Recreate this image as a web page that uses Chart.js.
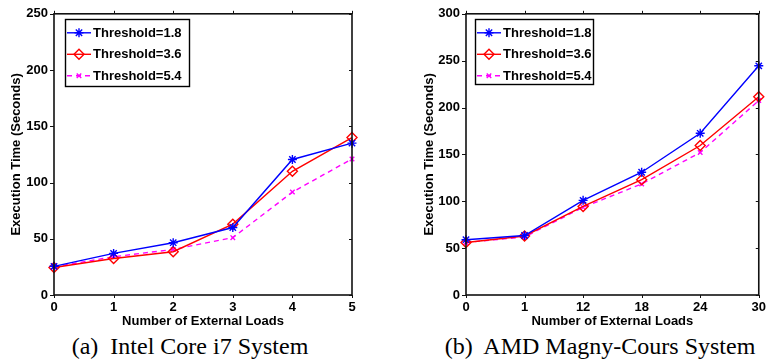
<!DOCTYPE html>
<html>
<head>
<meta charset="utf-8">
<script src="https://cdn.jsdelivr.net/npm/chart.js@4/dist/chart.umd.min.js"></script>
<style>
  html, body { margin:0; padding:0; background:#fff; }
  body { width:771px; height:364px; position:relative; overflow:hidden; }
  .wrap { position:absolute; top:0; }
  .cap { position:absolute; font-family:"Liberation Serif","DejaVu Serif",serif; font-size:24px; line-height:28px; color:#000; white-space:pre; transform:translateX(-50%); top:332px; }
</style>
</head>
<body>
<div class="wrap" style="left:0;width:390px;height:332px;"><canvas id="c1" width="390" height="332"></canvas></div>
<div class="wrap" style="left:390px;width:381px;height:332px;"><canvas id="c2" width="381" height="332"></canvas></div>
<div class="cap" style="left:190px;">(a)  Intel Core i7 System</div>
<div class="cap" style="left:600px;">(b)  AMD Magny-Cours System</div>
<script>
// ---------- data ----------
const seriesNames = ["Threshold=1.8", "Threshold=3.6", "Threshold=5.4"];

const intelLoads = ["0", "1", "2", "3", "4", "5"];
const intelT18 = [25.5, 37, 46.5, 60, 120.5, 135];
const intelT36 = [24.5, 32.5, 38.5, 63, 110, 140];
const intelT54 = [25, 34, 40.5, 51, 91.5, 121];
const intelYTicks = [0, 50, 100, 150, 200, 250];

const amdLoads = ["0", "1", "12", "18", "24", "30"];
const amdT18 = [59, 63.5, 101, 131, 172.5, 244.5];
const amdT36 = [56, 63, 94.5, 123, 159.5, 211.5];
const amdT54 = [56, 62, 93.5, 118.5, 152, 207.5];
const amdYTicks = [0, 50, 100, 150, 200, 250, 300];

const xTitle = "Number of External Loads";
const yTitle = "Execution Time (Seconds)";

// ---------- styles ----------
const FONT = "'Liberation Sans', Arial, sans-serif";
const styles = [
  { borderColor:'#0000ff', pointStyle:'star', pointRadius:4.5, borderDash:[], fill:'#0000ff' },
  { borderColor:'#ff0000', pointStyle:'rectRot', pointRadius:5, borderDash:[], fill:'rgba(0,0,0,0)' },
  { borderColor:'#ff00ff', pointStyle:'crossRot', pointRadius:3.2, borderDash:[5,4], fill:'#ff00ff' }
];

function makeDatasets(arrs) {
  return arrs.map((d, i) => ({
    label: seriesNames[i],
    data: d,
    borderColor: styles[i].borderColor,
    backgroundColor: styles[i].fill,
    pointBackgroundColor: styles[i].fill,
    pointBorderColor: styles[i].borderColor,
    pointStyle: styles[i].pointStyle,
    pointRadius: styles[i].pointRadius,
    pointHoverRadius: styles[i].pointRadius,
    pointBorderWidth: 1.4,
    borderWidth: 1.4,
    borderDash: styles[i].borderDash,
    tension: 0,
    fill: false
  }));
}

const framePlugin = {
  id: 'frame',
  afterDraw(chart, args, opts) {
    const ctx = chart.ctx;
    const a = chart.chartArea;
    const xs = chart.scales.x, ys = chart.scales.y;
    ctx.save();
    ctx.strokeStyle = '#111';
    ctx.lineWidth = 1.6;
    ctx.strokeRect(a.left, a.top, a.right - a.left, a.bottom - a.top);
    ctx.lineWidth = 1;
    ctx.beginPath();
    xs.ticks.forEach((t, i) => {
      const px = Math.round(xs.getPixelForTick(i)) + 0.5;
      ctx.moveTo(px, a.bottom); ctx.lineTo(px, a.bottom + 3);
      ctx.moveTo(px, a.top); ctx.lineTo(px, a.top - 3);
    });
    ys.ticks.forEach((t, i) => {
      const py = Math.round(ys.getPixelForTick(i)) + 0.5;
      ctx.moveTo(a.left, py); ctx.lineTo(a.left - 4, py);
      ctx.moveTo(a.right, py); ctx.lineTo(a.right - 3, py);
    });
    ctx.stroke();

    // legend
    const lg = opts.legend;
    const bx = a.left + lg.dx, by = a.top + lg.dy;
    ctx.fillStyle = '#fff';
    ctx.fillRect(bx, by, lg.w, lg.h);
    ctx.strokeStyle = '#000';
    ctx.lineWidth = 1.4;
    ctx.strokeRect(Math.round(bx) + 0.5, Math.round(by) + 0.5, lg.w, lg.h);
    ctx.font = "bold 13px " + FONT;
    ctx.textBaseline = 'middle';
    ctx.textAlign = 'left';
    chart.data.datasets.forEach((ds, i) => {
      const y = by + lg.row0 + i * lg.rowGap;
      const x0 = bx + 2, x1 = bx + 26;
      ctx.save();
      ctx.strokeStyle = ds.borderColor;
      ctx.lineWidth = ds.borderWidth;
      ctx.setLineDash(ds.borderDash || []);
      ctx.beginPath(); ctx.moveTo(x0, y); ctx.lineTo(x1, y); ctx.stroke();
      ctx.setLineDash([]);
      ctx.strokeStyle = ds.pointBorderColor;
      ctx.fillStyle = ds.pointBackgroundColor;
      ctx.lineWidth = ds.pointBorderWidth;
      Chart.helpers.drawPoint(ctx, { pointStyle: ds.pointStyle, radius: ds.pointRadius, rotation: 0, borderWidth: ds.pointBorderWidth }, (x0 + x1) / 2, y);
      ctx.restore();
      ctx.fillStyle = '#000';
      ctx.fillText(ds.label, bx + 28, y + 0.5);
    });
    ctx.restore();
  }
};

function makeChart(id, labels, arrs, yTicks, pad, yWidth, legend) {
  const ymax = yTicks[yTicks.length - 1];
  const step = yTicks[1] - yTicks[0];
  return new Chart(document.getElementById(id), {
    type: 'line',
    data: { labels: labels, datasets: makeDatasets(arrs) },
    options: {
      responsive: false,
      animation: false,
      events: [],
      layout: { padding: pad },
      plugins: { legend: { display: false }, tooltip: { enabled: false }, frame: { legend: legend } },
      scales: {
        x: {
          type: 'category',
          offset: false,
          grid: { display: false, drawTicks: false },
          border: { display: false },
          ticks: { color: '#000', font: { family: FONT, size: 13, weight: 'bold' }, padding: 5, maxRotation: 0, autoSkip: false },
          title: { display: true, text: xTitle, color: '#000', font: { family: FONT, size: 13, weight: 'bold' }, padding: { top: 0, bottom: 3 } },
          afterFit(s) { s.height = 37; }
        },
        y: {
          min: 0, max: ymax,
          grid: { display: false, drawTicks: false },
          border: { display: false },
          afterBuildTicks(s) { s.ticks = yTicks.map(v => ({ value: v })); },
          ticks: { color: '#000', font: { family: FONT, size: 13, weight: 'bold' }, padding: 6, stepSize: step },
          title: { display: true, text: yTitle, color: '#000', font: { family: FONT, size: 13, weight: 'bold' }, padding: { top: 4, bottom: 0 } },
          afterFit(s) { s.width = yWidth; }
        }
      }
    },
    plugins: [framePlugin]
  });
}

makeChart('c1', intelLoads, [intelT18, intelT36, intelT54], intelYTicks,
  { left: 5, right: 38, top: 10, bottom: 0 }, 49,
  { dx: 11, dy: 5, w: 124, h: 67, row0: 14, rowGap: 21.5 });

makeChart('c2', amdLoads, [amdT18, amdT36, amdT54], amdYTicks,
  { left: 28, right: 7, top: 10, bottom: 0 }, 48,
  { dx: 9, dy: 5, w: 118, h: 65, row0: 14, rowGap: 21.5 });
</script>
</body>
</html>
